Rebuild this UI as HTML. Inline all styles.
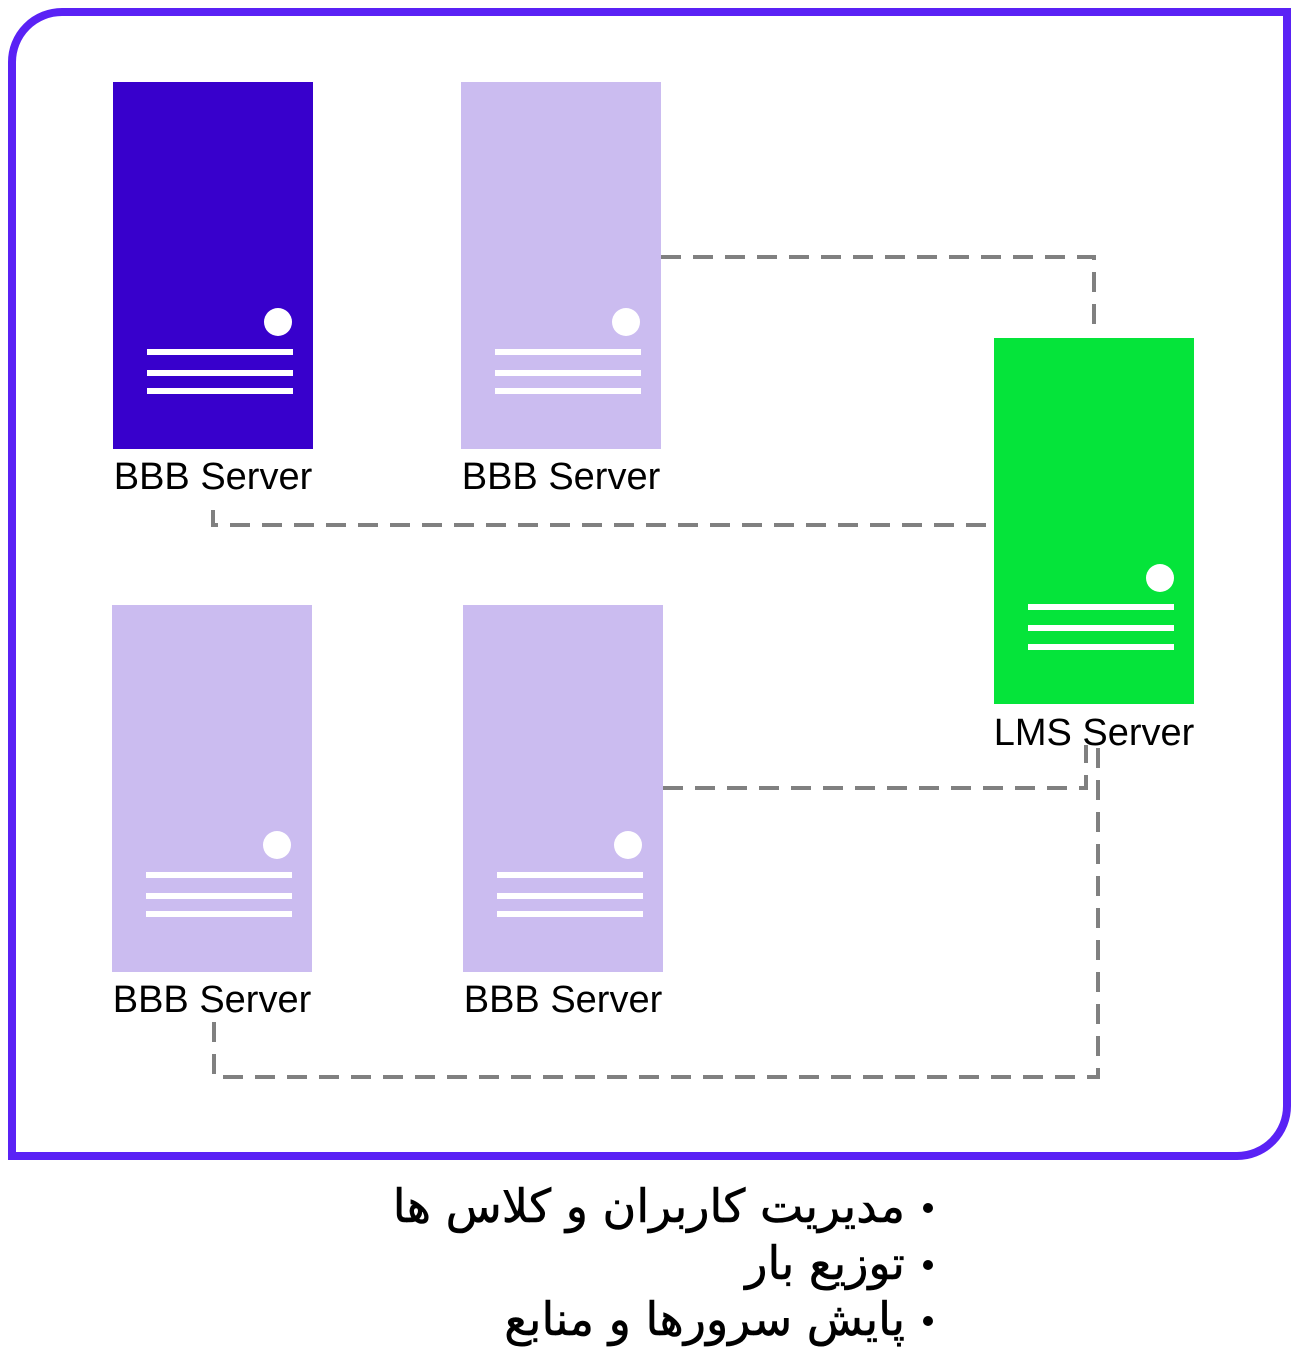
<!DOCTYPE html>
<html><head><meta charset="utf-8"><style>
body{margin:0;background:#fff;width:1299px;height:1358px;overflow:hidden;position:relative}
.t{font-family:"Liberation Sans",sans-serif;font-size:38px;fill:#000}
.fa{position:absolute;right:394px;font-family:"DejaVu Sans","Noto Sans CJK SC",sans-serif;font-size:46px;color:#000;direction:rtl;text-align:right;white-space:nowrap;line-height:50px;-webkit-text-stroke:0.6px #000}
</style></head><body>
<svg width="1299" height="1358" viewBox="0 0 1299 1358" style="position:absolute;left:0;top:0">
<path d="M62 12 H1287 V1106 A50 50 0 0 1 1237 1156 H12 V62 A50 50 0 0 1 62 12 Z" fill="#fff" stroke="#5a22f5" stroke-width="8"/>
<g fill="none" stroke="#808080" stroke-width="4" stroke-dasharray="20 12">
<path d="M661 257 H1094 V325"/>
<path d="M213 510 V525 H994"/>
<path d="M663 788 H1086 V745"/>
<path d="M214 1022 V1077 H1098 V745"/>
</g>
<rect x="113" y="82" width="200" height="367" fill="#3800cc"/>
<circle cx="278" cy="322" r="14" fill="#fff"/>
<g fill="#fff"><rect x="147" y="349" width="146" height="6"/><rect x="147" y="370" width="146" height="6"/><rect x="147" y="388" width="146" height="6"/></g>
<rect x="461" y="82" width="200" height="367" fill="#cbbcf0"/>
<circle cx="626" cy="322" r="14" fill="#fff"/>
<g fill="#fff"><rect x="495" y="349" width="146" height="6"/><rect x="495" y="370" width="146" height="6"/><rect x="495" y="388" width="146" height="6"/></g>
<rect x="112" y="605" width="200" height="367" fill="#cbbcf0"/>
<circle cx="277" cy="845" r="14" fill="#fff"/>
<g fill="#fff"><rect x="146" y="872" width="146" height="6"/><rect x="146" y="893" width="146" height="6"/><rect x="146" y="911" width="146" height="6"/></g>
<rect x="463" y="605" width="200" height="367" fill="#cbbcf0"/>
<circle cx="628" cy="845" r="14" fill="#fff"/>
<g fill="#fff"><rect x="497" y="872" width="146" height="6"/><rect x="497" y="893" width="146" height="6"/><rect x="497" y="911" width="146" height="6"/></g>
<rect x="994" y="338" width="200" height="366" fill="#05e43a"/>
<circle cx="1160" cy="578" r="14" fill="#fff"/>
<g fill="#fff"><rect x="1028" y="604" width="146" height="6"/><rect x="1028" y="625" width="146" height="6"/><rect x="1028" y="644" width="146" height="6"/></g>
<g class="t" text-anchor="middle">
<text x="213" y="489">BBB Server</text>
<text x="561" y="489">BBB Server</text>
<text x="212" y="1012">BBB Server</text>
<text x="563" y="1012">BBB Server</text>
<text x="1094" y="745">LMS Server</text>
</g>
<g fill="#000"><circle cx="928" cy="1208" r="5"/><circle cx="928" cy="1265" r="5"/><circle cx="928" cy="1321" r="5"/></g>
</svg>
<div class="fa" style="top:1181px">مدیریت کاربران و کلاس ها</div>
<div class="fa" style="top:1238px">توزیع بار</div>
<div class="fa" style="top:1294px">پایش سرورها و منابع</div>
</body></html>
